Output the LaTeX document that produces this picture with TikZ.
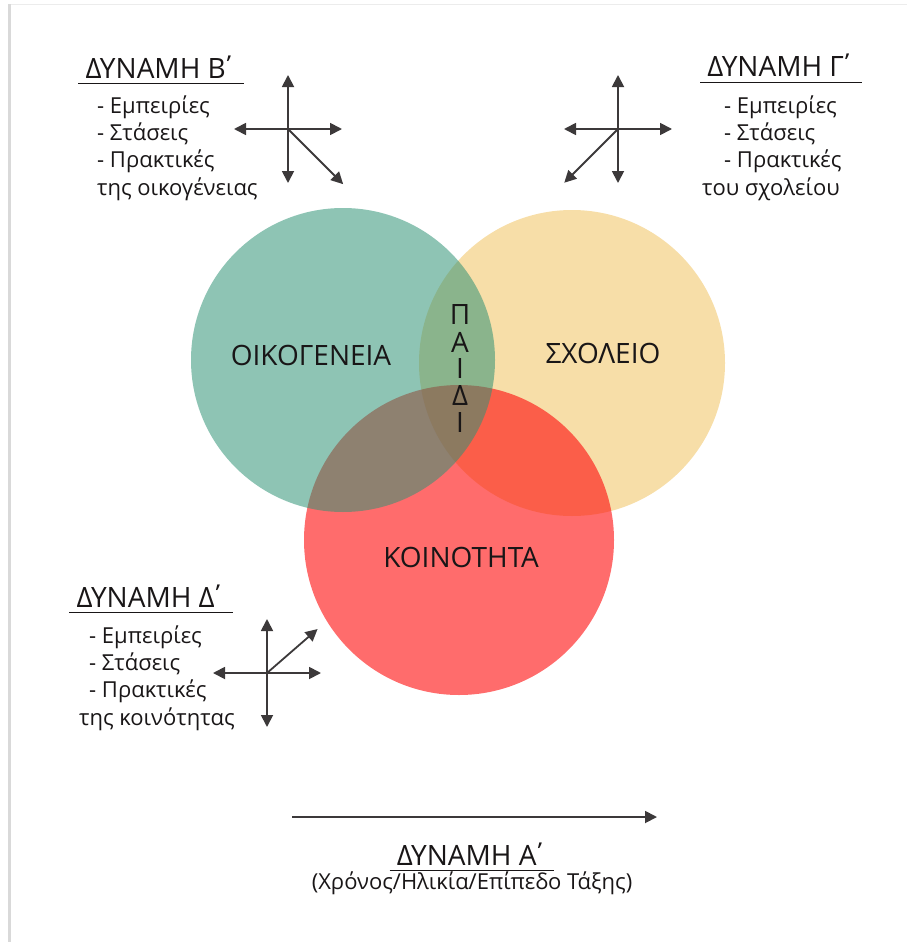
\documentclass[tikz,border=0pt]{standalone}
\usepackage{fontspec}
\setmainfont{Open Sans}
\usetikzlibrary{arrows.meta}
\definecolor{famcol}{RGB}{46,146,117}
\definecolor{schcol}{RGB}{247,222,168}
\definecolor{comcol}{RGB}{255,10,10}
\definecolor{ink}{RGB}{25,22,23}
\tikzset{
  arr/.style={line width=1.8pt,draw=ink!85,-{Triangle[length=12pt,width=12pt]}},
  head/.style={font=\fontsize{28}{32}\selectfont,text=ink,anchor=base,inner xsep=7pt,inner ysep=5pt},
  item/.style={font=\fontsize{22}{27}\selectfont,text=ink,anchor=base west,inner sep=0pt},
  lbl/.style={font=\fontsize{28}{32}\selectfont,text=ink,anchor=base}
}
\newcommand{\kera}{\kern-0.2em΄}
% arms of a cross: centre, diagonal angle, diagonal length
\newcommand{\crossarms}[3]{%
  \foreach \a/\l in {0/54,90/54,180/54,270/54,#2/#3}{%
    \coordinate (#1-\a) at ([shift={(\a:\l)}]#1);
    \draw[arr] (#1) -- (#1-\a);}}
\begin{document}
\begin{tikzpicture}[x=1pt,y=-1pt]
\useasboundingbox (0,0) rectangle (907,942);
\fill[gray!30] (8,4) rectangle (11,942);
\draw[gray!15,line width=1pt] (11,4.5) -- (907,4.5);
\coordinate (fam) at (343,360);
\coordinate (sch) at (572,363);
\coordinate (com) at (459,540);
\fill[schcol] (sch) circle[radius=153];
\fill[comcol,fill opacity=0.6] (com) circle[radius=155];
\fill[famcol,fill opacity=0.54] (fam) circle[radius=152];
\node[lbl] (famtxt) at (311,365) {ΟΙΚΟΓΕΝΕΙΑ};
\node[lbl] (schtxt) at (603,363) {ΣΧΟΛΕΙΟ};
\node[lbl] (comtxt) at (461,567) {ΚΟΙΝΟΤΗΤΑ};
\foreach \c [count=\i] in {Π,Α,Ι,Δ,Ι}
  \node[lbl,anchor=center,inner sep=0pt] (p\i) at (460,288+27*\i) {\c};
% Β
\node[head] (hB) at (161,78) {ΔΥΝΑΜΗ Β\kera};
\draw[ink,line width=1.2pt] (hB.south west) -- (hB.south east);
\foreach \t [count=\i] in {- Εμπειρίες,- Στάσεις,- Πρακτικές}
  \node[item] (iB\i) at (97,86+27*\i) {\t};
\node[item] (iB4) at (97,195) {της οικογένειας};
\coordinate (cB) at (288,129);
\crossarms{cB}{45}{78}
% Γ
\node[head] (hG) at (781,77) {ΔΥΝΑΜΗ Γ\kera};
\draw[ink,line width=1.2pt] (hG.south west) -- (hG.south east);
\foreach \t [count=\i] in {- Εμπειρίες,- Στάσεις,- Πρακτικές}
  \node[item] (iG\i) at (724,86+27*\i) {\t};
\node[item] (iG4) at (702,195) {του σχολείου};
\coordinate (cG) at (618,129);
\crossarms{cG}{135}{76}
% Δ
\node[head] (hD) at (151,607) {ΔΥΝΑΜΗ Δ\kera};
\draw[ink,line width=1.2pt] (hD.south west) -- (hD.south east);
\foreach \t [count=\i] in {- Εμπειρίες,- Στάσεις,- Πρακτικές}
  \node[item] (iD\i) at (89,616+27*\i) {\t};
\node[item] (iD4) at (79,725) {της κοινότητας};
\coordinate (cD) at (267,673);
\crossarms{cD}{-41}{67}
% Α
\coordinate (tA0) at (292,817);
\coordinate (tA1) at (657,817);
\draw[arr] (tA0) -- (tA1);
\node[head] (hA) at (472,865) {ΔΥΝΑΜΗ Α\kera};
\draw[ink,line width=1.2pt] (hA.south west) -- (hA.south east);
\node[item,anchor=base] (sA) at (472,889) {(Χρόνος/Ηλικία/Επίπεδο Τάξης)};
\end{tikzpicture}
\end{document}
